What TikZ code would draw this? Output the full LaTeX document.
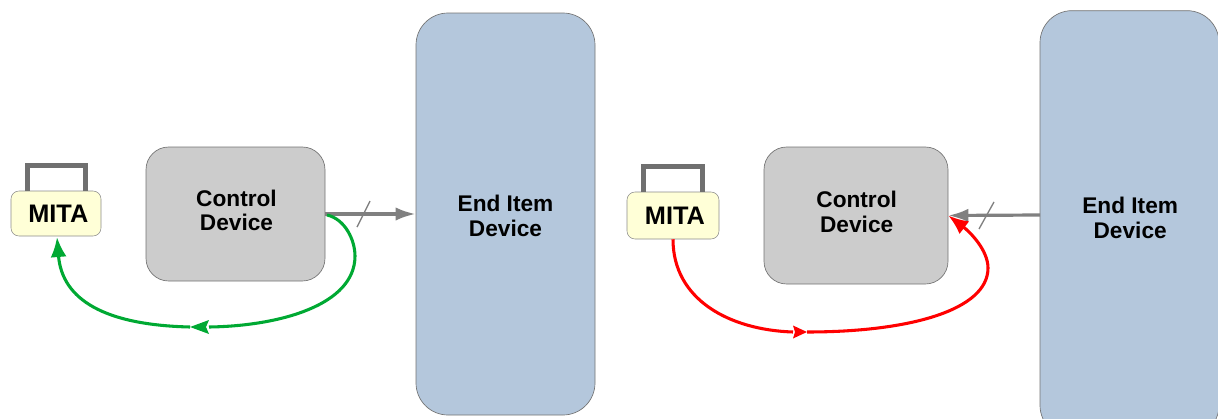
\documentclass[tikz,border=0pt]{standalone}
\usepackage{fontspec}
\setmainfont{Liberation Sans}
\usetikzlibrary{arrows.meta}
\definecolor{endblue}{HTML}{B4C7DC}
\definecolor{ctrlgray}{HTML}{CCCCCC}
\definecolor{mitayellow}{HTML}{FFFFD7}
\definecolor{linegray}{HTML}{808080}
\definecolor{handlegray}{HTML}{707070}
\definecolor{mygreen}{HTML}{00A933}
\definecolor{myred}{HTML}{FF0000}
\newcommand{\twolines}[4]{\hspace{#1}\raisebox{#2}[0pt][0pt]{\begin{tabular}{@{}c@{}}#3\\[-0.5pt]#4\end{tabular}}}
\tikzset{
  x=0.75pt,y=-0.75pt,
  endbox/.style={draw=black!55,line width=0.5pt,fill=endblue,rounded corners=24pt,inner sep=0pt,align=center,font=\fontsize{17}{19}\selectfont\bfseries},
  ctrlbox/.style={draw=black!55,line width=0.5pt,fill=ctrlgray,rounded corners=17pt,inner sep=0pt,align=center,font=\fontsize{17}{19}\selectfont\bfseries},
  mitabox/.style={draw=black!45,line width=0.4pt,fill=mitayellow,rounded corners=6pt,inner sep=0pt,align=center,font=\fontsize{19}{20}\selectfont\bfseries},
  handle/.style={draw=handlegray,line width=3.75pt,line join=miter},
  bus/.style={draw=linegray,line width=2.4pt,-{Latex[length=15pt,width=10pt]}},
  slashmark/.style={draw=linegray,line width=1pt},
  greenline/.style={draw=mygreen,line width=2.3pt},
  redline/.style={draw=myred,line width=2.3pt},
  bighead/.style={-{Latex[length=15pt,width=12pt]}},
}
\begin{document}
\begin{tikzpicture}
\useasboundingbox (0,0) rectangle (1218,418);
\clip (0,0) rectangle (1218,418);
% Left panel
\node[endbox,minimum width=134.25pt,minimum height=301.5pt] (endL) at (505.5,214) {\twolines{0pt}{-8pt}{End Item}{Device}};
\node[ctrlbox,minimum width=134.25pt,minimum height=100.5pt] (ctrlL) at (235.5,214) {\twolines{1.5pt}{-3.9pt}{Control}{Device}};
\node[mitabox,minimum width=67.5pt,minimum height=33.75pt] (mitaL) at (56,213.5) {\hspace{3.5pt}MITA};
\draw[handle] ([xshift=-21.75pt]mitaL.north) |- ++(21.75pt,19pt) -| ([xshift=21.75pt]mitaL.north);
\draw[bus] (ctrlL.east) -- (endL.west);
\coordinate (slashLa) at (357,227);
\coordinate (slashLb) at (370,201);
\draw[slashmark] (slashLa) -- (slashLb);
\coordinate (midLtip) at (190,327);
\coordinate (midLbase) at (209,327);
\coordinate (mitaLin) at (57,237);
\draw[greenline] (327,215) .. controls (345,219) and (355,240) .. (355,256)
  .. controls (355,305) and (280,326) .. (midLbase);
\draw[greenline,bighead] (midLtip) .. controls (105,325) and (62,300) .. (mitaLin);
\fill[mygreen] (midLtip) -- (209,320) -- (206,327) -- (209,334) -- cycle;
% Right panel
\node[endbox,minimum width=134.25pt,minimum height=320pt] (endR) at (1129.5,224) {\twolines{1pt}{-2pt}{End Item}{Device}};
\node[ctrlbox,minimum width=138pt,minimum height=102.75pt] (ctrlR) at (856,215.5) {\twolines{1pt}{-3.9pt}{Control}{Device}};
\node[mitabox,minimum width=69pt,minimum height=35.25pt] (mitaR) at (673,215.5) {\hspace{3pt}MITA};
\draw[handle] ([xshift=-22pt]mitaR.north) |- ++(22pt,19pt) -| ([xshift=22pt]mitaR.north);
\draw[bus] (1040,215) -- (ctrlR.east);
\coordinate (slashRa) at (979,229);
\coordinate (slashRb) at (994,202);
\draw[slashmark] (slashRa) -- (slashRb);
\coordinate (midRbase) at (793,332);
\coordinate (midRtip) at (807,332);
\draw[redline] (mitaR.south) .. controls (673,300) and (730,330) .. (midRbase);
\fill[myred] (midRtip) -- (793,325.5) -- (795,332) -- (793,338.5) -- cycle;
\draw[redline,bighead] (midRtip) .. controls (910,332) and (988,310) .. (988,268)
  .. controls (988,250) and (970,232) .. (ctrlR.east);
\end{tikzpicture}
\end{document}
